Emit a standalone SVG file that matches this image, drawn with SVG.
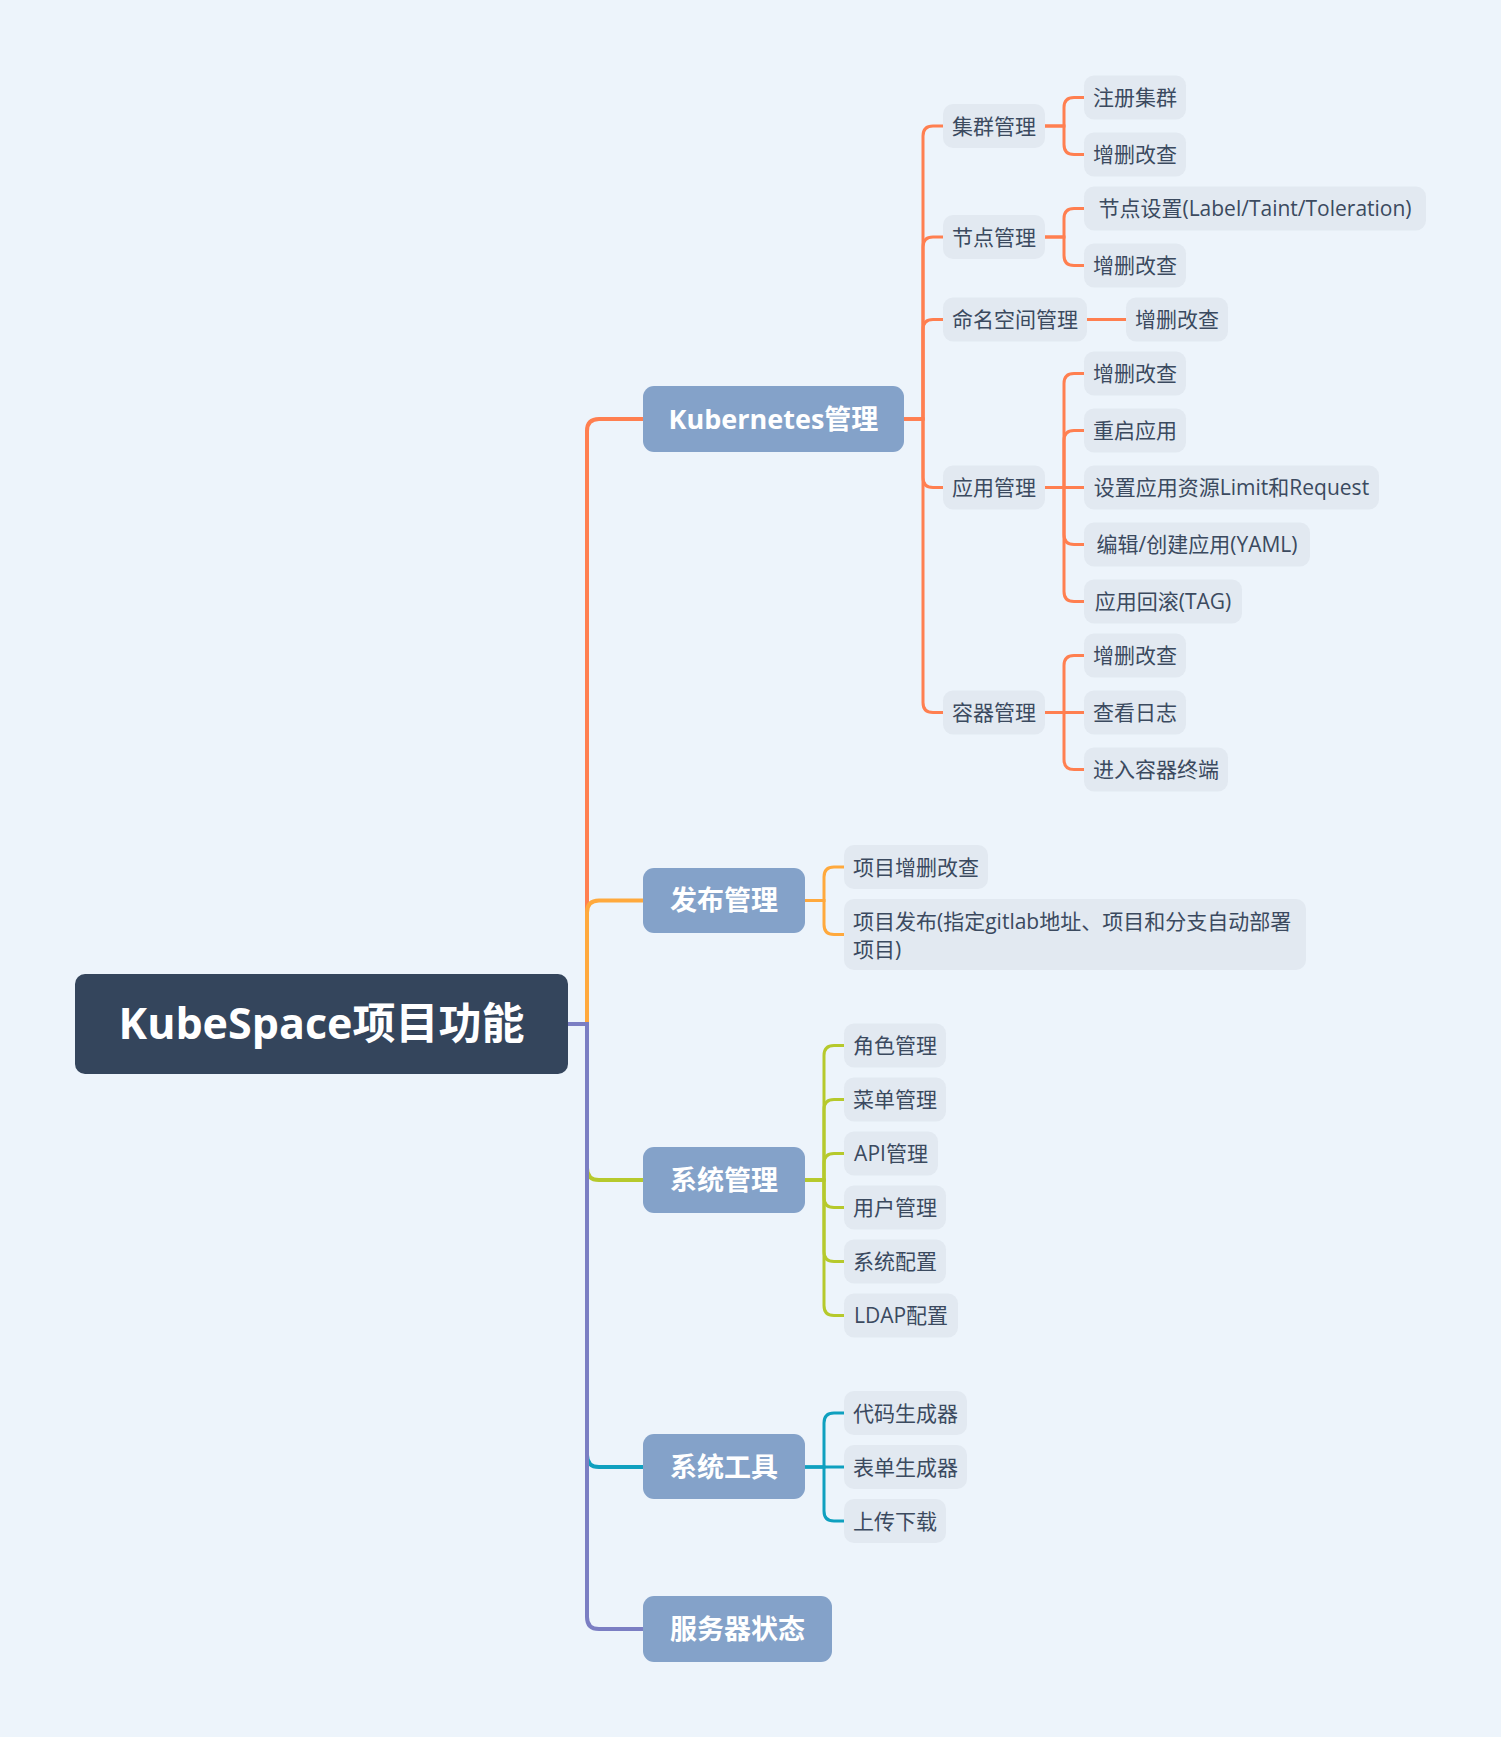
<svg xmlns="http://www.w3.org/2000/svg" width="1501" height="1737" viewBox="0 0 1501 1737">
<style>
.leaf rect{fill:#E2E9F1}
.leaf text{font-family:"Open Sans","Noto Sans CJK SC",sans-serif;font-size:21px;fill:#3B4A5F;text-anchor:middle}
.topic rect{fill:#84A2C9}
.topic text{font-family:"Open Sans","Noto Sans CJK SC",sans-serif;font-size:27px;font-weight:700;fill:#FFFFFF;text-anchor:middle}
.root rect{fill:#34455C}
.root text{font-family:"Open Sans","Noto Sans CJK SC",sans-serif;font-size:43px;font-weight:700;fill:#FFFFFF;text-anchor:middle}
.c path{fill:none;stroke-linecap:butt}
.k{stroke:#FF7F50;stroke-width:3}
.p{stroke:#FFA93D;stroke-width:3}
.g{stroke:#B6C92C;stroke-width:3}
.t{stroke:#0FA0BF;stroke-width:3}
.u{stroke:#7B7EC3;stroke-width:3}
.main{stroke-width:4}
</style>
<rect x="0" y="0" width="1501" height="1737" fill="#EDF4FB"/>

<g id="connectors" class="c">
  <path class="k main" d="M568 1024H587V431Q587 419 599 419H643"/>
  <path class="p main" d="M568 1024H587V912.5Q587 900.5 599 900.5H643"/>
  <path class="g main" d="M568 1024H587V1168Q587 1180 599 1180H643"/>
  <path class="t main" d="M568 1024H587V1455Q587 1467 599 1467H643"/>
  <path class="u main" d="M568 1024H587V1617Q587 1629 599 1629H643"/>
  <path class="k" d="M904 419H923V136Q923 126 933 126H943"/>
  <path class="k" d="M904 419H923V247Q923 237 933 237H943"/>
  <path class="k" d="M904 419H923V329.5Q923 319.5 933 319.5H943"/>
  <path class="k" d="M904 419H923V477.5Q923 487.5 933 487.5H943"/>
  <path class="k" d="M904 419H923V702.5Q923 712.5 933 712.5H943"/>
  <path class="k" d="M1045 126H1064V107.5Q1064 97.5 1074 97.5H1084"/>
  <path class="k" d="M1045 126H1064V144.5Q1064 154.5 1074 154.5H1084"/>
  <path class="k" d="M1045 237H1064V218.5Q1064 208.5 1074 208.5H1084"/>
  <path class="k" d="M1045 237H1064V255.5Q1064 265.5 1074 265.5H1084"/>
  <path class="k" d="M1087 319.5H1126"/>
  <path class="k" d="M1045 487.5H1064V383.5Q1064 373.5 1074 373.5H1084"/>
  <path class="k" d="M1045 487.5H1064V440.5Q1064 430.5 1074 430.5H1084"/>
  <path class="k" d="M1045 487.5H1084"/>
  <path class="k" d="M1045 487.5H1064V534.5Q1064 544.5 1074 544.5H1084"/>
  <path class="k" d="M1045 487.5H1064V591.5Q1064 601.5 1074 601.5H1084"/>
  <path class="k" d="M1045 712.5H1064V665.5Q1064 655.5 1074 655.5H1084"/>
  <path class="k" d="M1045 712.5H1084"/>
  <path class="k" d="M1045 712.5H1064V759.5Q1064 769.5 1074 769.5H1084"/>
  <path class="p" d="M805 900.5H824V877Q824 867 834 867H844"/>
  <path class="p" d="M805 900.5H824V924.5Q824 934.5 834 934.5H844"/>
  <path class="g" d="M805 1180H824V1055.5Q824 1045.5 834 1045.5H844"/>
  <path class="g" d="M805 1180H824V1109.5Q824 1099.5 834 1099.5H844"/>
  <path class="g" d="M805 1180H824V1163.5Q824 1153.5 834 1153.5H844"/>
  <path class="g" d="M805 1180H824V1197.5Q824 1207.5 834 1207.5H844"/>
  <path class="g" d="M805 1180H824V1251.5Q824 1261.5 834 1261.5H844"/>
  <path class="g" d="M805 1180H824V1305.5Q824 1315.5 834 1315.5H844"/>
  <path class="t" d="M805 1467H824V1423Q824 1413 834 1413H844"/>
  <path class="t" d="M805 1467H844"/>
  <path class="t" d="M805 1467H824V1511Q824 1521 834 1521H844"/>
</g>

<g id="root" class="root"><rect x="75" y="974" width="493" height="100" rx="10"/><text x="321.5" y="1039">KubeSpace项目功能</text></g>

<g id="t-k8s" class="topic"><rect x="643" y="386" width="261" height="66" rx="11"/><text x="773.5" y="428.5">Kubernetes管理</text></g>
<g id="t-publish" class="topic"><rect x="643" y="868" width="162" height="65" rx="11"/><text x="724" y="910">发布管理</text></g>
<g id="t-system" class="topic"><rect x="643" y="1147" width="162" height="66" rx="11"/><text x="724" y="1189.5">系统管理</text></g>
<g id="t-tools" class="topic"><rect x="643" y="1434" width="162" height="65" rx="11"/><text x="724" y="1476.5">系统工具</text></g>
<g id="t-server" class="topic"><rect x="643" y="1596" width="189" height="66" rx="11"/><text x="737.5" y="1638.5">服务器状态</text></g>

<g id="n-cluster" class="leaf"><rect x="943" y="104" width="102" height="44" rx="10"/><text x="994" y="133.5">集群管理</text></g>
<g id="n-node" class="leaf"><rect x="943" y="215" width="102" height="44" rx="10"/><text x="994" y="244.5">节点管理</text></g>
<g id="n-ns" class="leaf"><rect x="943" y="297.5" width="144" height="44" rx="10"/><text x="1015" y="327">命名空间管理</text></g>
<g id="n-app" class="leaf"><rect x="943" y="465.5" width="102" height="44" rx="10"/><text x="994" y="495">应用管理</text></g>
<g id="n-container" class="leaf"><rect x="943" y="690.5" width="102" height="44" rx="10"/><text x="994" y="720">容器管理</text></g>

<g id="n-cluster-reg" class="leaf"><rect x="1084" y="75.5" width="102" height="44" rx="10"/><text x="1135" y="105">注册集群</text></g>
<g id="n-cluster-crud" class="leaf"><rect x="1084" y="132.5" width="102" height="44" rx="10"/><text x="1135" y="162">增删改查</text></g>
<g id="n-node-set" class="leaf"><rect x="1084" y="186.5" width="342" height="44" rx="10"/><text x="1255" y="216">节点设置(Label/Taint/Toleration)</text></g>
<g id="n-node-crud" class="leaf"><rect x="1084" y="243.5" width="102" height="44" rx="10"/><text x="1135" y="273">增删改查</text></g>
<g id="n-ns-crud" class="leaf"><rect x="1126" y="297.5" width="102" height="44" rx="10"/><text x="1177" y="327">增删改查</text></g>
<g id="n-app-crud" class="leaf"><rect x="1084" y="351.5" width="102" height="44" rx="10"/><text x="1135" y="381">增删改查</text></g>
<g id="n-app-restart" class="leaf"><rect x="1084" y="408.5" width="102" height="44" rx="10"/><text x="1135" y="438">重启应用</text></g>
<g id="n-app-limit" class="leaf"><rect x="1084" y="465.5" width="295" height="44" rx="10"/><text x="1231.5" y="495">设置应用资源Limit和Request</text></g>
<g id="n-app-yaml" class="leaf"><rect x="1084" y="522.5" width="226" height="44" rx="10"/><text x="1197" y="552">编辑/创建应用(YAML)</text></g>
<g id="n-app-tag" class="leaf"><rect x="1084" y="579.5" width="158" height="44" rx="10"/><text x="1163" y="609">应用回滚(TAG)</text></g>
<g id="n-ct-crud" class="leaf"><rect x="1084" y="633.5" width="102" height="44" rx="10"/><text x="1135" y="663">增删改查</text></g>
<g id="n-ct-log" class="leaf"><rect x="1084" y="690.5" width="102" height="44" rx="10"/><text x="1135" y="720">查看日志</text></g>
<g id="n-ct-term" class="leaf"><rect x="1084" y="747.5" width="144" height="44" rx="10"/><text x="1156" y="777">进入容器终端</text></g>

<g id="n-pub-crud" class="leaf"><rect x="844" y="845" width="144" height="44" rx="10"/><text x="916" y="874.5">项目增删改查</text></g>
<g id="n-pub-deploy" class="leaf"><rect x="844" y="899" width="462" height="71" rx="10"/><text x="853" y="929" style="text-anchor:start">项目发布(指定gitlab地址、项目和分支自动部署</text><text x="853" y="957" style="text-anchor:start">项目)</text></g>

<g id="n-sys-role" class="leaf"><rect x="844" y="1023.5" width="102" height="44" rx="10"/><text x="895" y="1053">角色管理</text></g>
<g id="n-sys-menu" class="leaf"><rect x="844" y="1077.5" width="102" height="44" rx="10"/><text x="895" y="1107">菜单管理</text></g>
<g id="n-sys-api" class="leaf"><rect x="844" y="1131.5" width="94" height="44" rx="10"/><text x="891" y="1161">API管理</text></g>
<g id="n-sys-user" class="leaf"><rect x="844" y="1185.5" width="102" height="44" rx="10"/><text x="895" y="1215">用户管理</text></g>
<g id="n-sys-config" class="leaf"><rect x="844" y="1239.5" width="102" height="44" rx="10"/><text x="895" y="1269">系统配置</text></g>
<g id="n-sys-ldap" class="leaf"><rect x="844" y="1293.5" width="114" height="44" rx="10"/><text x="901" y="1323">LDAP配置</text></g>

<g id="n-tool-code" class="leaf"><rect x="844" y="1391" width="123" height="44" rx="10"/><text x="905.5" y="1420.5">代码生成器</text></g>
<g id="n-tool-form" class="leaf"><rect x="844" y="1445" width="123" height="44" rx="10"/><text x="905.5" y="1474.5">表单生成器</text></g>
<g id="n-tool-upload" class="leaf"><rect x="844" y="1499" width="102" height="44" rx="10"/><text x="895" y="1528.5">上传下载</text></g>
</svg>
